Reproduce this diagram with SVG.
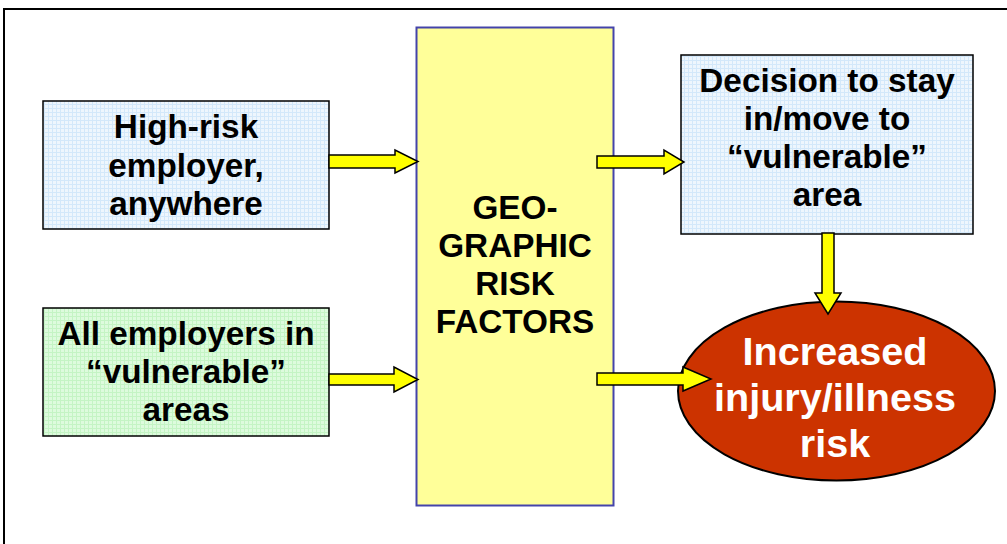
<svg xmlns="http://www.w3.org/2000/svg" width="1007" height="544" viewBox="0 0 1007 544">
<defs>
<pattern id="gridBlue" width="4" height="4" patternUnits="userSpaceOnUse">
<rect width="4" height="4" fill="#EEF6FD"/>
<path d="M0 0.5H4M0.5 0V4" stroke="#D3E8FA" stroke-width="1"/>
</pattern>
<pattern id="gridGreen" width="4" height="4" patternUnits="userSpaceOnUse">
<rect width="4" height="4" fill="#DDFBDD"/>
<path d="M0 0.5H4M0.5 0V4" stroke="#C4F4C4" stroke-width="1"/>
</pattern>
<style>
.box{stroke:#000;stroke-width:1.5}
.t{font-family:"Liberation Sans",Arial,sans-serif;font-weight:bold;font-size:33.3px;fill:#000;text-anchor:middle}
.tw{font-family:"Liberation Sans",Arial,sans-serif;font-weight:bold;font-size:39.6px;fill:#fff;text-anchor:middle}
.arr{fill:#FFFF00;stroke:#000;stroke-width:1.5;stroke-linejoin:miter}
</style>
</defs>
<rect width="1007" height="544" fill="#fff"/>
<path d="M4 544V9H1007" fill="none" stroke="#000" stroke-width="2"/>

<g id="node-highrisk">
<rect class="box" x="43" y="101" width="286" height="128" fill="url(#gridBlue)"/>
<text class="t" x="186" y="138">High-risk</text>
<text class="t" x="186" y="177">employer,</text>
<text class="t" x="186" y="215">anywhere</text>
</g>

<g id="node-allemployers">
<rect class="box" x="43" y="308" width="286" height="128" fill="url(#gridGreen)"/>
<text class="t" x="186" y="345">All employers in</text>
<text class="t" x="186" y="383">“vulnerable”</text>
<text class="t" x="186" y="421">areas</text>
</g>

<g id="node-geo">
<rect x="416.5" y="27.5" width="197" height="478" fill="#FFFF99" stroke="#4444AA" stroke-width="2"/>
<text class="t" x="515" y="219">GEO-</text>
<text class="t" x="515" y="257">GRAPHIC</text>
<text class="t" x="515" y="295">RISK</text>
<text class="t" x="515" y="333">FACTORS</text>
</g>

<g id="node-decision">
<rect class="box" x="681" y="55" width="292" height="179" fill="url(#gridBlue)"/>
<text class="t" x="827" y="92">Decision to stay</text>
<text class="t" x="827" y="130">in/move to</text>
<text class="t" x="827" y="168">“vulnerable”</text>
<text class="t" x="827" y="206">area</text>
</g>

<g id="node-risk">
<ellipse cx="836.5" cy="391" rx="158.5" ry="89.5" fill="#CC3300" stroke="#000" stroke-width="2"/>
<text class="tw" x="835" y="365">Increased</text>
<text class="tw" x="835" y="411">injury/illness</text>
<text class="tw" x="835" y="457">risk</text>
</g>

<g id="connectors">
<path class="arr" d="M329 155H395V150L418 161.5L395 173V168H329Z"/>
<path class="arr" d="M329 374H394V367L418 379.5L394 392V385H329Z"/>
<path class="arr" d="M597 156H664V150L684 162L664 174V168H597Z"/>
<path class="arr" d="M597 373H683V367L711 379L683 391V385H597Z"/>
<path class="arr" d="M822 233H834V293H841L828 314L815 293H822Z"/>
</g>
</svg>
